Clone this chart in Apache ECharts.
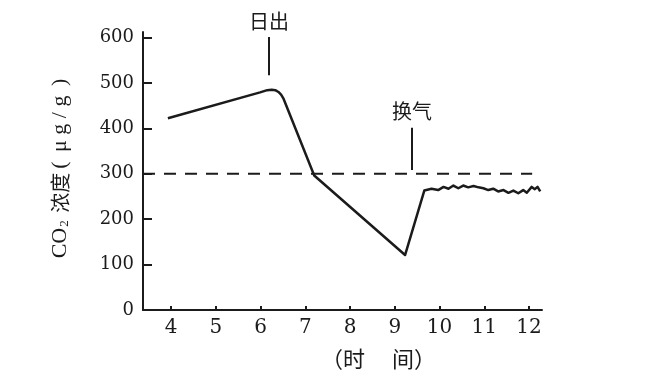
<!DOCTYPE html>
<html><head><meta charset="utf-8">
<script src="https://cdn.jsdelivr.net/npm/echarts@6/dist/echarts.min.js"></script>
<style>html,body{margin:0;padding:0;background:#fff}#c{width:655px;height:378px}</style>
</head><body><div id="c"></div>
<script>
// time (hours) and CO2 concentration (μg/g)
const hours = [3.93, 5.99, 6.15, 6.25, 6.33, 6.40, 6.46, 6.51, 7.20, 9.23, 9.66, 9.82, 9.86, 9.97, 10.09, 10.20, 10.31, 10.42, 10.53, 10.64, 10.76, 10.87, 10.98, 11.09, 11.20, 11.31, 11.43, 11.54, 11.65, 11.76, 11.87, 11.95, 12.06, 12.13, 12.19, 12.25];
const co2   = [422,  479,  484,  485,  484,  480,  474,  466,  296,  121,  263,  267,  270,  264,  271,   267,   274,   268,   274,   270,   273,   270,   268,   264,   267,   261,   264,   258,   263,   257,   264,   258,   271,   266,   271,   261];
const xTicks = [4, 5, 6, 7, 8, 9, 10, 11, 12];
const yTicks = [0, 100, 200, 300, 400, 500, 600];
const refLevel = 300;
const refSpan = [3.374, 12.07];
const noteText = ['日出', '换气'];
const noteX = [6.19, 9.385];
const noteFrom = [517, 308];
const noteTo = [601, 401];

const chart = echarts.init(document.getElementById('c'), null, {renderer: 'canvas'});
const serif = '"DejaVu Serif", "Liberation Serif", serif';
const tserif = '"Liberation Serif", serif';
const cjk = '"Noto Sans CJK SC", sans-serif';
const ink = '#1b1b1b';

const markData = noteText.map((t, i) => [
  {coord: [noteX[i], noteFrom[i]]},
  {coord: [noteX[i], noteTo[i]], label: {formatter: t}}
]);

chart.setOption({
  backgroundColor: '#fff',
  animation: false,
  grid: {left: 143, right: 113, top: 32, bottom: 68},
  xAxis: {
    type: 'value', min: 3.374, max: 12.29,
    name: '（时　 间）', nameLocation: 'middle', nameGap: 38,
    nameTextStyle: {fontFamily: cjk, fontSize: 22, color: ink, padding: [0, 0, 0, 72]},
    axisLine: {show: true, lineStyle: {color: ink, width: 2}},
    axisTick: {show: true, inside: true, length: 4, customValues: xTicks, lineStyle: {color: ink, width: 2}},
    axisLabel: {customValues: xTicks, fontFamily: serif, fontSize: 20, color: ink, margin: 8},
    splitLine: {show: false}
  },
  yAxis: {
    type: 'value', min: 0, max: 612,
    name: '{a|CO}{s|2}{a| }{c|浓度}{p|(}{a| μ g / g }{p|)}', nameLocation: 'middle', nameGap: 72, nameRotate: 90,
    nameTextStyle: {
      color: ink,
      padding: [0, 0, 0, 9],
      rich: {
        a: {fontFamily: tserif, fontSize: 22, color: ink},
        p: {fontFamily: tserif, fontSize: 22, color: ink, padding: [0, 4, 0, 4]},
        s: {fontFamily: tserif, fontSize: 13, color: ink, verticalAlign: 'bottom', padding: [8, 2, 0, 1]},
        c: {fontFamily: cjk, fontSize: 20, color: ink}
      }
    },
    axisLine: {show: true, lineStyle: {color: ink, width: 2}},
    axisTick: {show: true, inside: true, length: 9, customValues: yTicks, lineStyle: {color: ink, width: 2}},
    axisLabel: {customValues: yTicks, fontFamily: serif, fontSize: 18, color: ink, margin: 9},
    splitLine: {show: false}
  },
  series: [
    {
      type: 'line',
      data: hours.map((h, i) => [h, co2[i]]),
      showSymbol: false, symbol: 'none',
      lineStyle: {color: ink, width: 2.5, join: 'round'},
      markLine: {
        silent: true, symbol: 'none',
        lineStyle: {type: 'solid', color: ink, width: 2},
        label: {position: 'end', distance: 6, fontFamily: cjk, fontSize: 20, color: ink},
        data: markData
      }
    },
    {
      type: 'line',
      data: refSpan.map(x => [x, refLevel]),
      showSymbol: false, symbol: 'none',
      lineStyle: {color: ink, width: 2, type: [12, 9]}
    }
  ]
});
</script>
</body></html>
